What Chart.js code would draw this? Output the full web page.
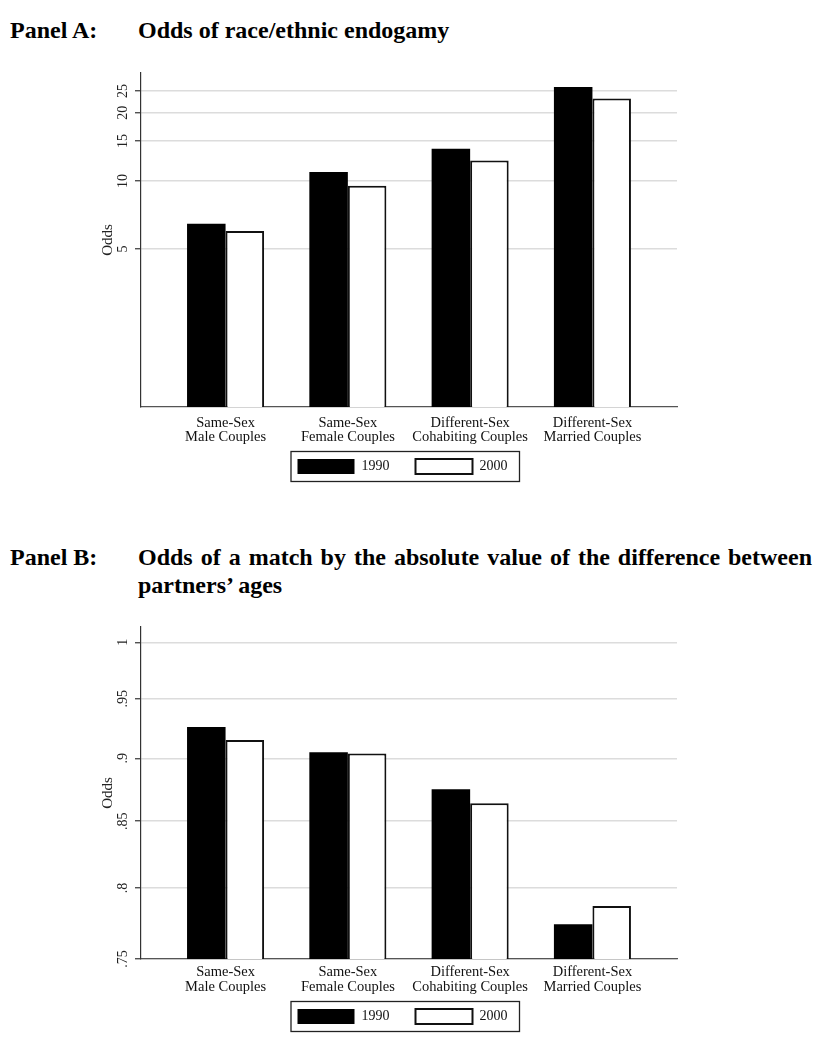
<!DOCTYPE html>
<html lang="en">
  <head>
    <meta charset="UTF-8" />
    <script src="https://cdn.jsdelivr.net/npm/chart.js"></script>
    <style>
      body {
        margin: 0;
        background: #fff;
        width: 825px;
        height: 1050px;
        position: relative;
        font-family: "Liberation Serif", "Times New Roman", serif;
        color: #000;
      }
      .panel {
        position: absolute;
        font-weight: bold;
        font-size: 24px;
        line-height: 28px;
      }
      .panel .tag {
        position: absolute;
        left: 10px;
        top: 0;
        white-space: nowrap;
      }
      .panel .text {
        position: absolute;
        left: 138px;
        top: 0;
        width: 674px;
        text-align: justify;
      }
      canvas {
        position: absolute;
        left: 0;
      }
    </style>
  </head>
  <body>
    <div class="panel" style="top: 16px">
      <span class="tag">Panel A:</span>
      <div class="text">Odds of race/ethnic endogamy</div>
    </div>
    <canvas id="chartA" width="825" height="436" style="top: 50px"></canvas>

    <div class="panel" style="top: 543px">
      <span class="tag">Panel B:</span>
      <div class="text">Odds of a match by the absolute value of the difference between partners’ ages</div>
    </div>
    <canvas id="chartB" width="825" height="431" style="top: 605px"></canvas>

    <script>
      const categories = [
        ["Same-Sex", "Male Couples"],
        ["Same-Sex", "Female Couples"],
        ["Different-Sex", "Cohabiting Couples"],
        ["Different-Sex", "Married Couples"],
      ];
      const years = ["1990", "2000"];

      // Panel A: odds of race/ethnic endogamy (log axis)
      const endogamy1990 = [6.47, 10.96, 13.86, 26.0];
      const endogamy2000 = [6.01, 9.51, 12.3, 23.13];
      const endogamyTicks = [5, 10, 15, 20, 25];
      const endogamyTickLabels = ["5", "10", "15", "20", "25"];

      // Panel B: odds of a match by age difference (log axis)
      const age1990 = [0.926, 0.905, 0.875, 0.774];
      const age2000 = [0.915, 0.904, 0.864, 0.787];
      const ageTicks = [0.75, 0.8, 0.85, 0.9, 0.95, 1];
      const ageTickLabels = [".75", ".8", ".85", ".9", ".95", "1"];

      const serif = "'Liberation Serif', 'Times New Roman', serif";
      const xLabelSize = 14.5;

      // nudges the legend a bit left and draws the box round it
      const legendFrame = {
        id: "legendFrame",
        afterLayout(chart) {
          if (!chart.legend) return;
          chart.legend.left -= 6.5;
          chart.legend.right -= 6.5;
        },
        afterDraw(chart) {
          const hb = chart.legend && chart.legend.legendHitBoxes;
          if (!hb || !hb.length) return;
          const first = hb[0];
          const last = hb[hb.length - 1];
          const ctx = chart.ctx;
          ctx.save();
          ctx.strokeStyle = "#222";
          ctx.lineWidth = 1.3;
          ctx.strokeRect(
            first.left - 6.5,
            first.top - 7.5,
            last.left + last.width - first.left + 18.5,
            first.height + 15
          );
          ctx.restore();
        },
      };

      function makeChart(id, v1990, v2000, yMin, yMax, yTicks, yLabels, opts) {
        const points = (arr) => arr.map((y, i) => ({ x: i + 1, y: y }));
        return new Chart(document.getElementById(id), {
          type: "bar",
          data: {
            datasets: [
              {
                label: years[0],
                data: points(v1990),
                backgroundColor: "#000",
                borderColor: "#000",
                borderWidth: 0,
              },
              {
                label: years[1],
                data: points(v2000),
                backgroundColor: "#fff",
                borderColor: "#111",
                borderWidth: 2,
              },
            ],
          },
          options: {
            responsive: false,
            animation: false,
            devicePixelRatio: 1,
            events: [],
            categoryPercentage: 0.63,
            barPercentage: 1,
            layout: {
              padding: { left: 90, right: 148, top: opts.top, bottom: 2 },
            },
            scales: {
              x: {
                type: "linear",
                offset: false,
                min: 1 - 0.6915,
                max: categories.length + 0.6915,
                afterBuildTicks: (axis) => {
                  axis.ticks = categories.map((c, i) => ({ value: i + 1 }));
                },
                afterFit: (scale) => {
                  scale.height = opts.xHeight;
                },
                grid: { display: false, drawTicks: false, offset: false },
                border: { display: true, color: "#555", width: 1.2 },
                ticks: {
                  autoSkip: false,
                  minRotation: 0,
                  maxRotation: 0,
                  // mirror keeps the two-line labels from being clipped
                  mirror: true,
                  padding: -(opts.xPad + xLabelSize),
                  color: "#111",
                  font: { family: serif, size: xLabelSize, lineHeight: 1.0 },
                  callback: (value, index) => categories[index],
                },
              },
              y: {
                type: "logarithmic",
                min: yMin,
                max: yMax,
                afterBuildTicks: (axis) => {
                  axis.ticks = yTicks.map((v) => ({ value: v }));
                },
                afterFit: (scale) => {
                  scale.width = 51;
                },
                grid: {
                  color: "#dcdcdc",
                  lineWidth: 1.5,
                  drawTicks: true,
                  tickLength: 6,
                  tickColor: "#333",
                  tickWidth: 1.2,
                },
                border: { display: true, color: "#333", width: 1.2 },
                ticks: {
                  autoSkip: false,
                  minRotation: 90,
                  maxRotation: 90,
                  crossAlign: "center",
                  padding: opts.yPad,
                  color: "#222",
                  font: { family: serif, size: 14 },
                  callback: (value, index) => yLabels[index],
                },
                title: {
                  display: true,
                  text: "Odds",
                  color: "#222",
                  font: { family: serif, size: 15 },
                  padding: { top: 9, bottom: 0 },
                },
              },
            },
            plugins: {
              tooltip: { enabled: false },
              legend: {
                position: "bottom",
                fullSize: false,
                labels: {
                  boxWidth: 57,
                  boxHeight: 15,
                  padding: 26,
                  color: "#111",
                  font: { family: serif, size: 14 },
                },
              },
            },
          },
          plugins: [legendFrame],
        });
      }

      makeChart("chartA", endogamy1990, endogamy2000, 1, 30,
        endogamyTicks, endogamyTickLabels,
        { top: 23, xHeight: 26, xPad: 8.5, yPad: 5 });

      makeChart("chartB", age1990, age2000, 0.75, 1.014,
        ageTicks, ageTickLabels,
        { top: 22, xHeight: 24, xPad: 6, yPad: 3 });
    </script>
  </body>
</html>
